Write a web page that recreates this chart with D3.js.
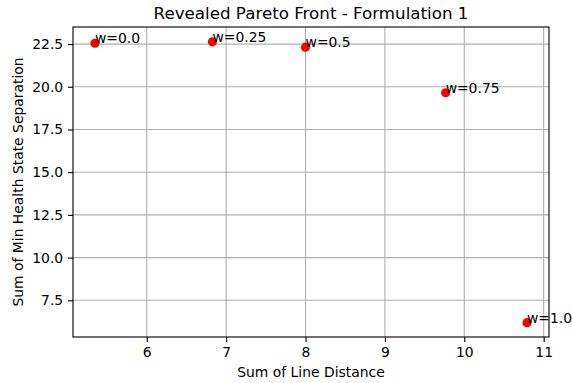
<!DOCTYPE html>
<html>
<head>
  <style>
    body { margin: 0; background: #fff; }
    svg { font-family: "DejaVu Sans", sans-serif; }
  </style>
</head>
<body>
  <svg width="572" height="383"></svg>
  <script src="https://d3js.org/d3.v7.min.js"></script>
  <script>
    // values
    const labels = ["w=0.0", "w=0.25", "w=0.5", "w=0.75", "w=1.0"];
    const lineDistance = [5.348, 6.827, 8.0, 9.765, 10.79];
    const healthSeparation = [22.55, 22.63, 22.32, 19.65, 6.19];
    const xTicks = [6, 7, 8, 9, 10, 11];
    const yTicks = [7.5, 10.0, 12.5, 15.0, 17.5, 20.0, 22.5];

    const svg = d3.select("svg"),
          margin = {top: 27, right: 23, bottom: 46, left: 73},
          width = +svg.attr("width") - margin.left - margin.right,
          height = +svg.attr("height") - margin.top - margin.bottom;

    const x = d3.scaleLinear().domain([5.071, 11.067]).range([0, width]),
          y = d3.scaleLinear().domain([5.35, 23.5]).range([height, 0]);

    const g = svg.append("g")
      .attr("transform", "translate(" + margin.left + "," + margin.top + ")");

    // grid
    g.append("g").selectAll("line").data(xTicks).enter().append("line")
      .attr("x1", d => x(d)).attr("x2", d => x(d))
      .attr("y1", 0).attr("y2", height)
      .attr("stroke", "#b0b0b0").attr("stroke-width", 1.1);
    g.append("g").selectAll("line").data(yTicks).enter().append("line")
      .attr("y1", d => y(d)).attr("y2", d => y(d))
      .attr("x1", 0).attr("x2", width)
      .attr("stroke", "#b0b0b0").attr("stroke-width", 1.1);

    // axes
    const xAxis = g.append("g")
      .attr("transform", "translate(0," + height + ")")
      .call(d3.axisBottom(x).tickValues(xTicks).tickFormat(d3.format("d")).tickSizeOuter(0).tickSize(4.9).tickPadding(4.9));
    const yAxis = g.append("g")
      .call(d3.axisLeft(y).tickValues(yTicks).tickFormat(d3.format(".1f")).tickSizeOuter(0).tickSize(4.9).tickPadding(4.9));
    [xAxis, yAxis].forEach(a => {
      a.select(".domain").remove();
      a.selectAll("text").attr("font-size", 13.9).attr("fill", "#000")
        .attr("font-family", "DejaVu Sans, sans-serif");
      a.selectAll("line").attr("stroke", "#000").attr("stroke-width", 1.1);
    });

    // frame
    g.append("rect")
      .attr("width", width).attr("height", height)
      .attr("fill", "none").attr("stroke", "#000").attr("stroke-width", 1.1);

    // points
    const data = labels.map((l, i) => ({label: l, x: lineDistance[i], y: healthSeparation[i]}));
    g.selectAll(".dot").data(data).enter().append("circle")
      .attr("class", "dot")
      .attr("cx", d => x(d.x)).attr("cy", d => y(d.y))
      .attr("r", 4.6).attr("fill", "red");

    g.selectAll(".lbl").data(data).enter().append("text")
      .attr("class", "lbl")
      .attr("x", d => x(d.x)).attr("y", d => y(d.y))
      .attr("font-size", 13.9).attr("fill", "#000")
      .text(d => d.label);

    // titles
    svg.append("text")
      .attr("x", margin.left + width / 2).attr("y", 18.5)
      .attr("text-anchor", "middle").attr("font-size", 16.7)
      .text("Revealed Pareto Front - Formulation 1");
    svg.append("text")
      .attr("x", margin.left + width / 2).attr("y", 376.7)
      .attr("text-anchor", "middle").attr("font-size", 13.9)
      .text("Sum of Line Distance");
    svg.append("text")
      .attr("transform", "translate(22.5," + (margin.top + height / 2) + ") rotate(-90)")
      .attr("text-anchor", "middle").attr("font-size", 13.9)
      .text("Sum of Min Health State Separation");
  </script>
</body>
</html>
